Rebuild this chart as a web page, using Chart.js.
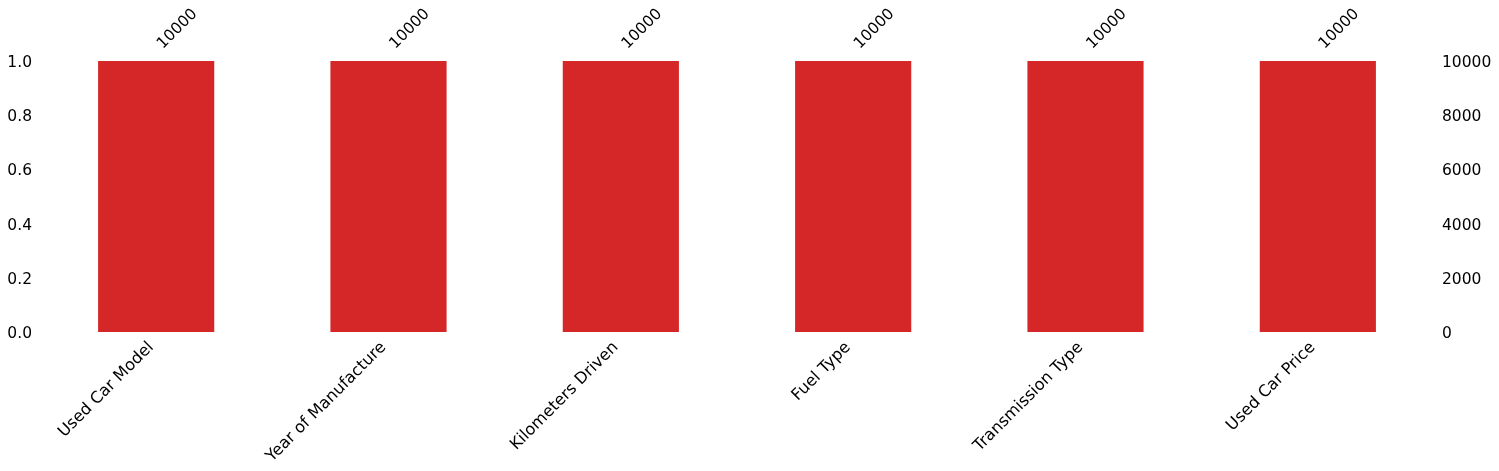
<!DOCTYPE html>
<html>
<head>
<meta charset="utf-8">
<script src="https://cdn.jsdelivr.net/npm/chart.js@4"></script>
<style>
  html, body { margin: 0; padding: 0; background: #fff; }
  #wrap { width: 1499px; height: 471px; position: relative; }
</style>
</head>
<body>
<div id="wrap"><canvas id="barChart"></canvas></div>
<script>
// column names and non-null counts
const columns = ['Used Car Model', 'Year of Manufacture', 'Kilometers Driven', 'Fuel Type', 'Transmission Type', 'Used Car Price'];
const counts = [10000, 10000, 10000, 10000, 10000, 10000];
const totalRows = 10000;
const leftTicks = [0, 0.2, 0.4, 0.6, 0.8, 1.0];
const rightTicks = [0, 2000, 4000, 6000, 8000, 10000];

const fractions = counts.map(c => c / totalRows);
const font = { family: 'DejaVu Sans', size: 15.5 };
const bottomFont = { family: 'DejaVu Sans', size: 16.2 };

// fixed axis sizes so the plot area lands where the reference has it
const fix = (w, h) => (scale) => {
    if (w != null) scale.width = w;
    if (h != null) scale.height = h;
};

new Chart(document.getElementById('barChart'), {
    type: 'bar',
    data: {
        labels: columns,
        datasets: [{
            data: fractions,
            backgroundColor: '#d62728',
            barPercentage: 0.5,
            categoryPercentage: 1.0,
            yAxisID: 'y'
        }]
    },
    options: {
        responsive: true,
        maintainAspectRatio: false,
        animation: false,
        layout: { padding: 0 },
        plugins: { legend: { display: false }, tooltip: { enabled: false } },
        scales: {
            x: {
                position: 'bottom',
                offset: true,
                grid: { display: false, drawTicks: false },
                border: { display: false },
                ticks: { color: '#000', font: bottomFont, maxRotation: 45, minRotation: 45, autoSkip: false, padding: 6, labelOffset: -5 },
                afterFit: fix(null, 139)
            },
            x2: {
                type: 'category',
                position: 'top',
                offset: true,
                labels: counts.map(String),
                grid: { display: false, drawTicks: false },
                border: { display: false },
                ticks: { color: '#000', font, maxRotation: 45, minRotation: 45, autoSkip: false, padding: 8, labelOffset: 17 },
                afterFit: fix(null, 61)
            },
            y: {
                position: 'left',
                min: 0,
                max: 1,
                afterBuildTicks: (s) => { s.ticks = leftTicks.map(v => ({ value: v })); },
                grid: { display: false, drawTicks: false },
                border: { display: false },
                ticks: { color: '#000', font, padding: 8, labelOffset: 2, callback: v => v.toFixed(1) },
                afterFit: fix(40, null)
            },
            y2: {
                position: 'right',
                min: 0,
                max: totalRows,
                afterBuildTicks: (s) => { s.ticks = rightTicks.map(v => ({ value: v })); },
                grid: { display: false, drawTicks: false },
                border: { display: false },
                ticks: { color: '#000', font, padding: 8, labelOffset: 2, callback: v => String(v) },
                afterFit: fix(65, null)
            }
        }
    }
});
</script>
</body>
</html>
